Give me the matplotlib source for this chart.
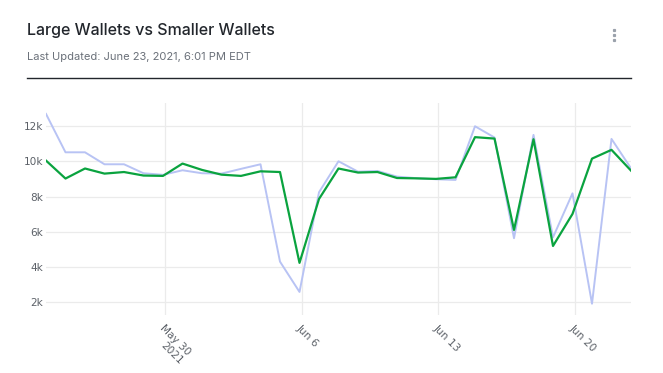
import numpy as np
import pandas as pd
import matplotlib
matplotlib.use("Agg")
import matplotlib.pyplot as plt
import matplotlib.dates as mdates

# daily values, May 24 - Jun 23 2021
dates = pd.date_range("2021-05-24", periods=31) - pd.Timedelta(hours=3)
large = [12700, 10520, 10520, 9840, 9840, 9330, 9240, 9500, 9330, 9310,
         9580, 9840, 4310, 2590, 8250, 10010, 9420, 9460, 9140, 9050,
         8990, 8950, 12000, 11360, 5640, 11510, 5690, 8190, 1920, 11280, 9610]
smaller = [10050, 9030, 9600, 9310, 9400, 9200, 9180, 9880, 9520, 9250,
           9180, 9440, 9400, 4240, 7870, 9600, 9370, 9400, 9060, 9040,
           9010, 9100, 11380, 11300, 6110, 11260, 5200, 7020, 10160, 10660, 9480]
tick_dates = pd.to_datetime(["2021-05-30", "2021-06-06", "2021-06-13", "2021-06-20"])
tick_labels = ["May 30\n2021", "Jun 6", "Jun 13", "Jun 20"]

fig = plt.figure(figsize=(6.63, 3.73), dpi=100)
W, H = 663, 373
ax = fig.add_axes([46 / W, 1 - 315 / H, (631 - 46) / W, (315 - 103) / H])

ax.plot(dates, large, color="#b8c3f4", lw=1.4, zorder=2)
ax.plot(dates, smaller, color="#0aa33f", lw=1.6, zorder=3)

ax.set_xlim(dates[0], dates[-1])
ax.set_ylim(1280, 13320)
ax.set_yticks([2000, 4000, 6000, 8000, 10000, 12000])
ax.set_yticklabels(["2k", "4k", "6k", "8k", "10k", "12k"])
ax.set_xticks(tick_dates)
ax.set_xticklabels(tick_labels, rotation=-45, ha="left", va="top",
                   rotation_mode="anchor", multialignment="right")
ax.grid(True, color="#ebebeb", lw=0.9)
ax.set_axisbelow(True)
for s in ax.spines.values():
    s.set_visible(False)
ax.tick_params(axis="y", length=0, labelsize=7.6, labelcolor="#5c6168", pad=2)
ax.tick_params(axis="x", length=0, labelsize=7.6, labelcolor="#5c6168", pad=6)

fig.text(27 / W, 1 - 31 / H, "Large Wallets vs Smaller Wallets", fontsize=11.5,
         color="#22262c", family="Inter", weight="medium", va="center")
fig.text(27 / W, 1 - 57 / H, "Last Updated: June 23, 2021, 6:01 PM EDT", fontsize=8,
         color="#6a7079", family="Inter", va="center")
fig.add_artist(plt.Line2D([27 / W, 631 / W], [1 - 77.5 / H, 1 - 77.5 / H],
                          color="#22262c", lw=1.0))
for yy in (30, 35, 40):
    fig.add_artist(plt.Line2D([614 / W], [1 - yy / H], marker="s", ms=1.3,
                              color="#9aa1ab", lw=0))

fig.savefig("out.png", dpi=100)
